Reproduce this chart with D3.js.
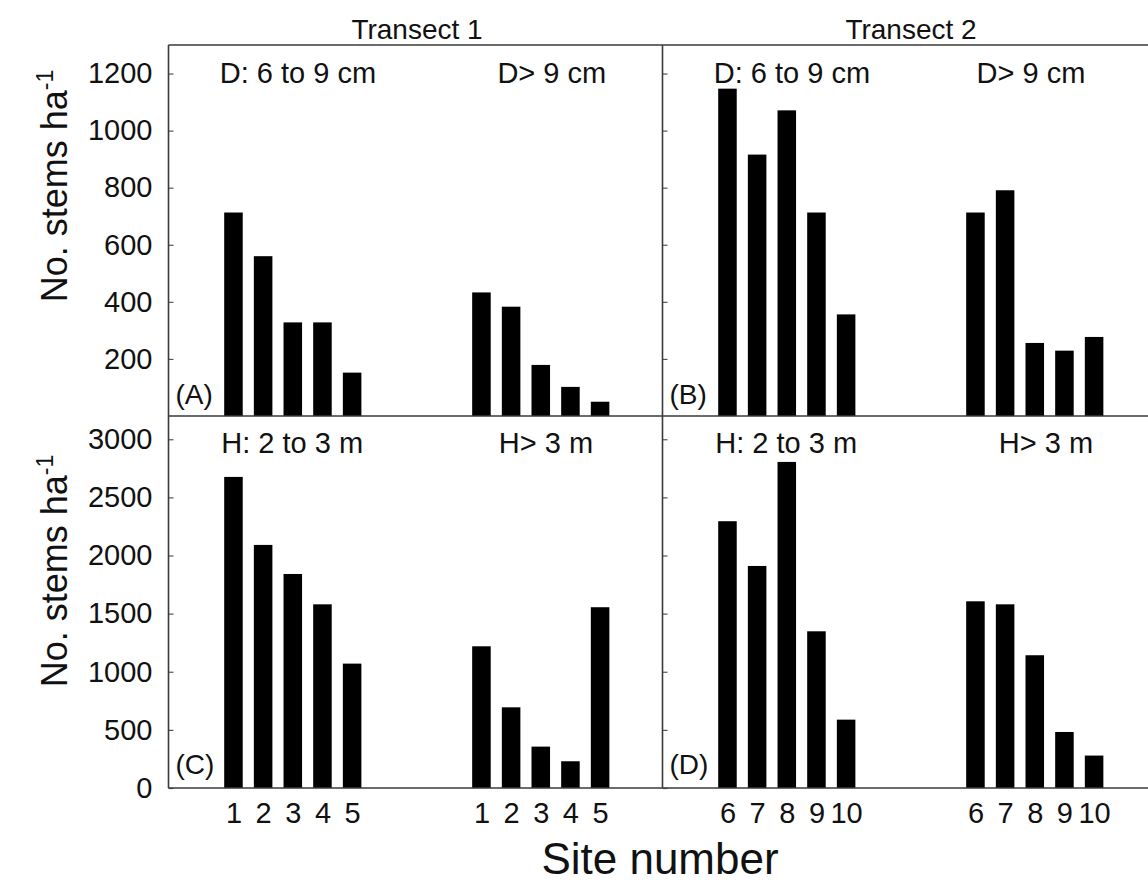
<!DOCTYPE html>
<html>
<head>
<meta charset="utf-8">
<script src="https://cdn.jsdelivr.net/npm/d3@7"></script>
<style>
  html, body { margin: 0; padding: 0; background: #fff; }
  svg { display: block; font-family: "Liberation Sans", Arial, sans-serif; }
  text { fill: #111; }
</style>
</head>
<body>
<svg id="chart" width="1148" height="882"></svg>
<script>
// Site labels for the two transects
const sitesT1 = ["1", "2", "3", "4", "5"];
const sitesT2 = ["6", "7", "8", "9", "10"];

// Stem densities (stems per ha) by diameter class
const diamSmallT1 = [713, 560, 328, 328, 152];   // D: 6 to 9 cm, transect 1
const diamLargeT1 = [433, 383, 179, 102, 50];    // D > 9 cm, transect 1
const diamSmallT2 = [1147, 916, 1071, 713, 356]; // D: 6 to 9 cm, transect 2
const diamLargeT2 = [713, 791, 256, 229, 277];   // D > 9 cm, transect 2

// Stem densities (stems per ha) by height class
const heightLowT1 = [2676, 2091, 1841, 1580, 1070];  // H: 2 to 3 m, transect 1
const heightHighT1 = [1219, 694, 356, 230, 1555];    // H > 3 m, transect 1
const heightLowT2 = [2295, 1910, 2805, 1348, 588];   // H: 2 to 3 m, transect 2
const heightHighT2 = [1606, 1580, 1142, 482, 279];   // H > 3 m, transect 2

// Axis ticks
const diamTicks = [200, 400, 600, 800, 1000, 1200];
const heightTicks = [0, 500, 1000, 1500, 2000, 2500, 3000];

// Text
const transectTitles = ["Transect 1", "Transect 2"];
const diamClasses = ["D: 6 to 9 cm", "D> 9 cm"];
const heightClasses = ["H: 2 to 3 m", "H> 3 m"];
const panelTags = ["(A)", "(B)", "(C)", "(D)"];

const svg = d3.select("#chart");

// Layout
const colLeft = [168.5, 662.5];
const panelW = 493;
const rowTop = [45, 416];
const rowBottom = [416, 788];
const groupGap = 8.36;   // slot offset of the second class group
const barW = 0.625;      // bar width in slot units
const tickFont = 29;

const yDiam = d3.scaleLinear().domain([0, 1300]).range([rowBottom[0], rowTop[0]]);
const yHeight = d3.scaleLinear().domain([0, 3200]).range([rowBottom[1], rowTop[1]]);

const xScales = colLeft.map(x0 =>
  d3.scaleLinear().domain([-2.19, 14.43]).range([x0, x0 + panelW]));

const panels = [
  { col: 0, row: 0, y: yDiam, groups: [diamSmallT1, diamLargeT1], sites: sitesT1, tag: panelTags[0], classes: diamClasses, classDx: [-0.15, 0.85] },
  { col: 1, row: 0, y: yDiam, groups: [diamSmallT2, diamLargeT2], sites: sitesT2, tag: panelTags[1], classes: diamClasses, classDx: [-0.15, 0.35] },
  { col: 0, row: 1, y: yHeight, groups: [heightLowT1, heightHighT1], sites: sitesT1, tag: panelTags[2], classes: heightClasses, classDx: [-0.1, 0.9] },
  { col: 1, row: 1, y: yHeight, groups: [heightLowT2, heightHighT2], sites: sitesT2, tag: panelTags[3], classes: heightClasses, classDx: [-0.1, 1.1] }
];

const axisColor = "#3a3a3a";

panels.forEach(p => {
  const x = xScales[p.col];
  const g = svg.append("g");

  p.groups.forEach((vals, gi) => {
    // bars
    g.selectAll(null)
      .data(vals)
      .enter().append("rect")
      .attr("x", (d, i) => x(gi * groupGap + i - barW / 2))
      .attr("width", x(barW) - x(0))
      .attr("y", d => p.y(d))
      .attr("height", d => p.y(0) - p.y(d))
      .attr("fill", "#000");

    // site numbers below the bottom row
    if (p.row === 1) {
      const ax = d3.axisBottom(x)
        .tickValues(vals.map((d, i) => gi * groupGap + i))
        .tickFormat((d, i) => p.sites[i])
        .tickSize(0)
        .tickPadding(14);
      const axg = svg.append("g")
        .attr("transform", `translate(0,${p.y(0)})`)
        .call(ax);
      axg.select(".domain").remove();
      axg.selectAll("text")
        .attr("font-size", tickFont)
        .attr("font-family", "Liberation Sans, Arial, sans-serif")
        .attr("fill", "#111");
    }

    // class label
    svg.append("text")
      .attr("x", x(gi * groupGap - barW / 2 + p.classDx[gi]))
      .attr("y", p.row === 0 ? 83 : 453)
      .attr("font-size", 29)
      .text(p.classes[gi]);
  });

  // panel tag
  svg.append("text")
    .attr("x", colLeft[p.col] + 7)
    .attr("y", p.row === 0 ? 404 : 774)
    .attr("font-size", 28)
    .text(p.tag);

  // y ticks (inward)
  const yAx = d3.axisLeft(p.y)
    .tickValues(p.row === 0 ? diamTicks : heightTicks)
    .tickFormat(d3.format("d"))
    .tickSizeInner(-5)
    .tickSizeOuter(0)
    .tickPadding(16);
  const yg = svg.append("g")
    .attr("transform", `translate(${colLeft[p.col]},0)`)
    .call(yAx);
  yg.select(".domain").remove();
  yg.selectAll(".tick line").attr("stroke", "#555").attr("stroke-width", 1.2);
  if (p.col === 0) {
    yg.selectAll("text")
      .attr("font-size", tickFont)
      .attr("font-family", "Liberation Sans, Arial, sans-serif")
      .attr("fill", "#111");
  } else {
    yg.selectAll("text").remove();
  }
});

// frame lines
const frame = svg.append("g").attr("stroke", axisColor).attr("stroke-width", 1.6).attr("fill", "none");
frame.append("line").attr("x1", colLeft[0]).attr("x2", 1160).attr("y1", rowTop[0]).attr("y2", rowTop[0]);
frame.append("line").attr("x1", colLeft[0]).attr("x2", 1160).attr("y1", rowBottom[0]).attr("y2", rowBottom[0]);
frame.append("line").attr("x1", colLeft[0]).attr("x2", 1160).attr("y1", rowBottom[1]).attr("y2", rowBottom[1]);
frame.append("line").attr("x1", colLeft[0]).attr("x2", colLeft[0]).attr("y1", rowTop[0]).attr("y2", rowBottom[1]);
frame.append("line").attr("x1", colLeft[1]).attr("x2", colLeft[1]).attr("y1", rowTop[0]).attr("y2", rowBottom[1]);

// transect titles
transectTitles.forEach((t, i) => {
  svg.append("text")
    .attr("x", colLeft[i] + panelW / 2 + 2)
    .attr("y", 39)
    .attr("text-anchor", "middle")
    .attr("font-size", 28)
    .text(t);
});

// y axis titles
[186, 571].forEach(cy => {
  const t = svg.append("text")
    .attr("transform", `translate(67,${cy}) rotate(-90)`)
    .attr("text-anchor", "middle")
    .attr("font-size", 36);
  t.append("tspan").text("No. stems ha");
  t.append("tspan").attr("font-size", 23).attr("dy", -14).text("-1");
});

// x axis title
svg.append("text")
  .attr("x", 660)
  .attr("y", 874)
  .attr("text-anchor", "middle")
  .attr("font-size", 44)
  .text("Site number");
</script>
</body>
</html>
